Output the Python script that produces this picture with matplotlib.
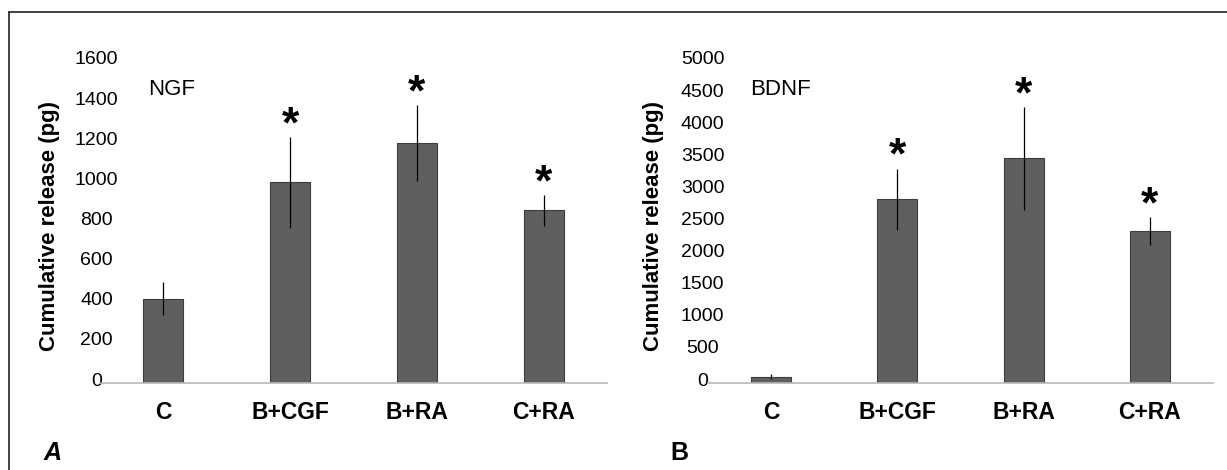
import matplotlib
matplotlib.use('Agg')
import matplotlib.pyplot as plt
import matplotlib.transforms as mtransforms
from matplotlib.lines import Line2D

# dados
grupos = ['C', 'B+CGF', 'B+RA', 'C+RA']
ngf = [420, 1000, 1195, 860]
ngf_erro = [83, 225, 189, 75]
ngf_sig = [False, True, True, True]
bdnf = [100, 2860, 3500, 2365]
bdnf_erro = [35, 477, 799, 215]
bdnf_sig = [False, True, True, True]

fonte = ['Liberation Sans', 'DejaVu Sans']

fig = plt.figure(figsize=(12.27, 4.70), dpi=100)


def painel(rect, valores, erros, sig, ymax, passo, nome, nome_x, tick_pad, ylab_x):
    ax = fig.add_axes(rect)
    x = range(len(grupos))
    ax.bar(x, valores, width=0.316, color='#5f5f5f', edgecolor='#3c3c3c',
           linewidth=0.8, zorder=2)
    ax.errorbar(x, valores, yerr=erros, fmt='none', ecolor='black',
                elinewidth=0.9, capsize=0, zorder=3)
    for i, s in enumerate(sig):
        if s:
            ax.annotate('*', (i, valores[i] + erros[i]), xytext=(0, 0),
                        textcoords='offset points', ha='center', va='baseline',
                        fontsize=32, fontweight='bold', family=fonte)
    ax.set_xlim(-0.5, 3.5)
    ax.set_ylim(0, ymax)
    ax.set_yticks(range(0, ymax + 1, passo))
    ax.set_xticks(list(x))
    ax.set_xticklabels(grupos, fontsize=16.5, fontweight='bold', family=fonte)
    for s in ['top', 'right', 'left']:
        ax.spines[s].set_visible(False)
    ax.spines['bottom'].set_color('#b8b8b8')
    ax.spines['bottom'].set_linewidth(1.2)
    ax.tick_params(axis='x', length=0, pad=13)
    ax.tick_params(axis='y', length=0, pad=tick_pad, labelsize=14)
    # rótulos do eixo y centralizados e um pouco acima
    off = mtransforms.ScaledTranslation(0, 4 / 100, fig.dpi_scale_trans)
    for lbl in ax.get_yticklabels():
        lbl.set_ha('center')
        lbl.set_family(fonte)
        lbl.set_transform(lbl.get_transform() + off)
    ax.set_ylabel('Cumulative release (pg)', fontsize=16, fontweight='bold',
                  family=fonte, va='center')
    ax.yaxis.set_label_coords(ylab_x, 0.49)
    ax.text(nome_x, 0.915, nome, transform=ax.transAxes, fontsize=16,
            family=fonte, ha='center', va='center')
    return ax


W, H = 1227, 470
axA = painel([100 / W, 87 / H, 507 / W, 321 / H], ngf, ngf_erro, ngf_sig,
             1600, 200, 'NGF', 0.142, 2.5, -0.10)
axB = painel([708 / W, 87 / H, 505 / W, 321 / H], bdnf, bdnf_erro, bdnf_sig,
             5000, 500, 'BDNF', 0.143, 3.8, -0.107)

# letras dos painéis
fig.text(53 / W, 1 - 453 / H, 'A', fontsize=18, fontweight='bold',
         style='italic', family=fonte, ha='center', va='center')
fig.text(679 / W, 1 - 453 / H, 'B', fontsize=18, fontweight='bold',
         family=fonte, ha='center', va='center')

# moldura
fig.add_artist(Line2D([9 / W, 9 / W], [0, 1 - 12 / H], color='#333333',
                      linewidth=1.3, transform=fig.transFigure))
fig.add_artist(Line2D([9 / W, 1], [1 - 12 / H, 1 - 12 / H], color='#333333',
                      linewidth=1.3, transform=fig.transFigure))

fig.savefig('out.png', dpi=100)
